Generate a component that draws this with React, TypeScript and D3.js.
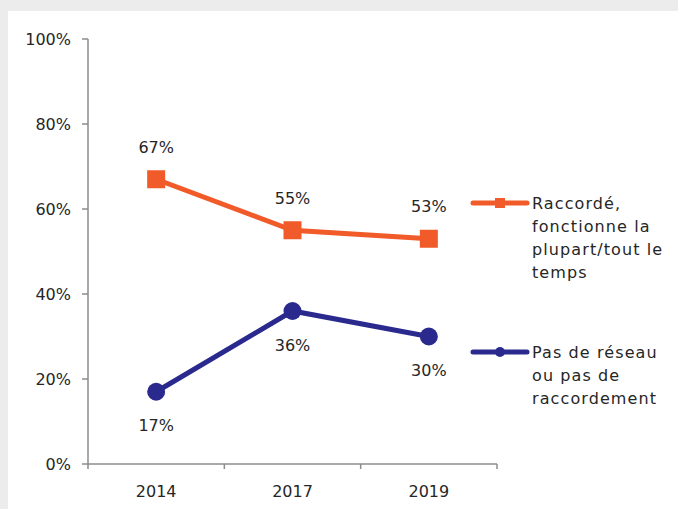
import React from "react";
import * as d3 from "d3";

const categories = ["2014", "2017", "2019"];
const seriesNames = ["Raccordé, fonctionne la plupart/tout le temps", "Pas de réseau ou pas de raccordement"];
const raccorde = [0.67, 0.55, 0.53];
const pasReseau = [0.17, 0.36, 0.30];
const yTicks = [0, 0.2, 0.4, 0.6, 0.8, 1.0];
const legendLines1 = ["Raccordé,", "fonctionne la", "plupart/tout le", "temps"];
const legendLines2 = ["Pas de réseau", "ou pas de", "raccordement"];

const ORANGE = "#F15A29";
const BLUE = "#2A2A8E";
const FONT = "'DejaVu Sans', sans-serif";
const TEXT = "#262626";

export default function App() {
  const W = 678, H = 509;
  const x = d3.scaleBand<string>().domain(categories).range([88, 497]);
  const y = d3.scaleLinear().domain([0, 1]).range([464, 39]);
  const cx = (c: string) => (x(c) as number) + x.bandwidth() / 2;
  const line = d3.line<number>().x((_, i) => cx(categories[i])).y((d) => y(d));
  const pct = d3.format(".0%");
  const xTickPos = [...categories.map((c) => x(c) as number), 497];

  return (
    <svg width={W} height={H} style={{ position: "absolute", left: 0, top: 0 }} fontFamily={FONT}>
      <rect x={0} y={0} width={W} height={H} fill="#ececec" />
      <rect x={8} y={11} width={W - 8} height={H - 11} fill="#ffffff" />
      {/* y axis */}
      <line x1={88} x2={88} y1={y(1)} y2={y(0)} stroke="#8c8c8c" strokeWidth={1.5} />
      {yTicks.map((t) => (
        <g key={t}>
          <line x1={82} x2={88} y1={y(t)} y2={y(t)} stroke="#8c8c8c" strokeWidth={1.5} />
          <text x={71} y={y(t)} dy="0.35em" textAnchor="end" fontSize={16} fill={TEXT}>
            {pct(t)}
          </text>
        </g>
      ))}
      {/* x axis */}
      <line x1={88} x2={497} y1={y(0)} y2={y(0)} stroke="#8c8c8c" strokeWidth={1.5} />
      {xTickPos.map((p, i) => (
        <line key={i} x1={p} x2={p} y1={y(0)} y2={y(0) + 5} stroke="#8c8c8c" strokeWidth={1.5} />
      ))}
      {categories.map((c) => (
        <text key={c} x={cx(c)} y={491} dy="0.35em" textAnchor="middle" fontSize={16} fill={TEXT}>
          {c}
        </text>
      ))}
      {/* orange series */}
      <path d={line(raccorde) || ""} fill="none" stroke={ORANGE} strokeWidth={5} />
      {raccorde.map((v, i) => (
        <g key={i}>
          <rect x={cx(categories[i]) - 9} y={y(v) - 9} width={18} height={18} fill={ORANGE} />
          <text x={cx(categories[i])} y={y(v) - 32} dy="0.35em" textAnchor="middle" fontSize={16} fill={TEXT}>
            {pct(v)}
          </text>
        </g>
      ))}
      {/* blue series */}
      <path d={line(pasReseau) || ""} fill="none" stroke={BLUE} strokeWidth={5} />
      {pasReseau.map((v, i) => (
        <g key={i}>
          <circle cx={cx(categories[i])} cy={y(v)} r={9} fill={BLUE} />
          <text x={cx(categories[i])} y={y(v) + 34} dy="0.35em" textAnchor="middle" fontSize={16} fill={TEXT}>
            {pct(v)}
          </text>
        </g>
      ))}
      {/* legend */}
      <g>
        <line x1={473} x2={527} y1={203} y2={203} stroke={ORANGE} strokeWidth={5} strokeLinecap="round" />
        <rect x={495} y={198} width={10} height={10} fill={ORANGE} />
        {legendLines1.map((l, i) => (
          <text key={i} x={532} y={203 + i * 23} dy="0.35em" fontSize={16} letterSpacing={1.1} fill={TEXT}>
            {l}
          </text>
        ))}
        <line x1={473} x2={527} y1={352} y2={352} stroke={BLUE} strokeWidth={5} strokeLinecap="round" />
        <circle cx={500} cy={352} r={5} fill={BLUE} />
        {legendLines2.map((l, i) => (
          <text key={i} x={532} y={352 + i * 23} dy="0.35em" fontSize={16} letterSpacing={1.1} fill={TEXT}>
            {l}
          </text>
        ))}
      </g>
      <title>{seriesNames.join(" / ")}</title>
    </svg>
  );
}
